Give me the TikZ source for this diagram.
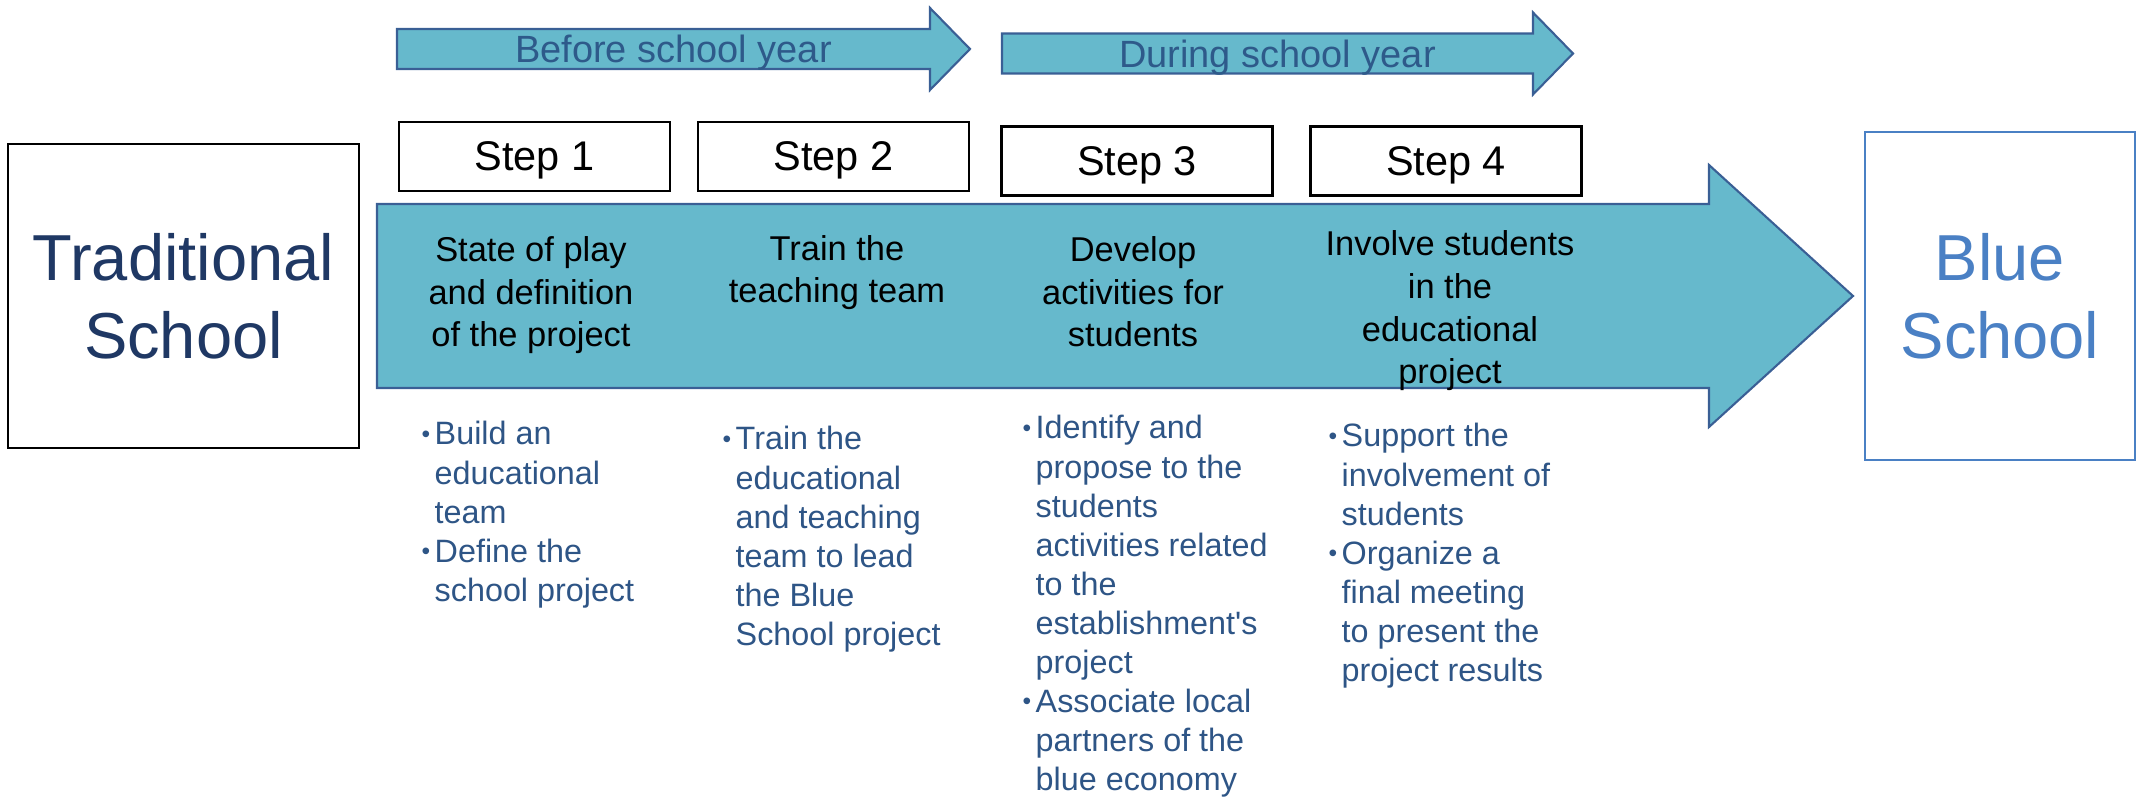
\documentclass[tikz,border=0pt]{standalone}
\usepackage{fontspec}
\setmainfont{Liberation Sans}
\usepackage{tikz}
\usetikzlibrary{calc}
\definecolor{arrowfill}{HTML}{66B9CC}
\definecolor{arrowline}{HTML}{3A5F95}
\definecolor{navytext}{HTML}{1F3864}
\definecolor{bluetext}{HTML}{4A80C4}
\definecolor{listtext}{HTML}{2E5586}
\definecolor{phasetext}{HTML}{2E5A8A}
\tikzstyle{stepbox}=[rectangle,draw=black,line width=0.6pt,minimum width=27.1mm,minimum height=6.9mm,inner sep=0pt,text depth=0pt,font=\fontsize{11.8}{14}\selectfont]
\tikzstyle{schoolbox}=[rectangle,draw,line width=0.6pt,align=center,inner sep=0pt,font=\fontsize{18.5}{22.2}\selectfont]
\tikzstyle{arrowshape}=[fill=arrowfill,draw=arrowline,line width=0.6pt,line join=miter]
\tikzstyle{phase}=[anchor=base,text=phasetext,inner sep=0pt,font=\fontsize{10.8}{13}\selectfont]
\tikzstyle{stage}=[anchor=base,align=center,inner sep=0pt,font=\fontsize{9.8}{12.2}\selectfont]
\tikzstyle{tasks}=[anchor=base west,inner sep=0pt,text=listtext,font=\fontsize{9.2}{11.1}\selectfont]
\newcommand{\itm}{\makebox[1.3mm][l]{\raisebox{0.6pt}{\fontsize{7}{7}\selectfont\textbullet}}}

\begin{document}
\begin{tikzpicture}[x=0.1mm,y=-0.1mm]

    \useasboundingbox (0,0) rectangle (2138,800);

    % phase arrows
    \foreach \xa/\xb/\yc/\name/\txt in {397/930/49/before/Before school year, 1002/1533/53.5/during/During school year}
    {
        \draw[arrowshape] (\xa,\yc-20) -- (\xb,\yc-20) -- (\xb,\yc-41) -- (\xb+40,\yc)
            -- (\xb,\yc+41) -- (\xb,\yc+20) -- (\xa,\yc+20) -- cycle;
        \node[phase] (\name) at ({(\xa+\xb)/2+10},\yc+14) {\txt};
    }

    \foreach \pos/\name/\num in {{(534.5,156.5)/step1/1}, {(833.5,156.5)/step2/2}, {(1137,161)/step3/3}, {(1446,161)/step4/4}}
        \node[stepbox] (\name) at \pos {Step \num};

    % main arrow
    \draw[arrowshape] (377,204) -- (1709,204) -- (1709,165) -- (1853,296)
        -- (1709,427) -- (1709,388) -- (377,388) -- cycle;

    % base = last line
    \node[stage] (play)    at (531,347)  {State of play\\and definition\\of the project};
    \node[stage] (train)   at (837,303)  {Train the\\teaching team};
    \node[stage] (develop) at (1133,347) {Develop\\activities for\\students};
    \node[stage] (involve) at (1450,384) {Involve students\\in the\\educational\\project};

    \node[schoolbox, draw=black, text=navytext, minimum width=35.1mm, minimum height=30.4mm] (trad) at (183.5,296) {Traditional\\School};
    \node[schoolbox, draw=bluetext, text=bluetext, minimum width=27mm, minimum height=32.8mm] (blue) at (2000,296) {Blue\\School};

    \node[tasks] (list1) at (421,445) {\begin{tabular}[t]{@{}l@{}l@{}}\itm&Build an\\&educational\\&team\\\itm&Define the\\&school project\end{tabular}};
    \node[tasks] (list2) at (722,450) {\begin{tabular}[t]{@{}l@{}l@{}}\itm&Train the\\&educational\\&and teaching\\&team to lead\\&the Blue\\&School project\end{tabular}};
    \node[tasks] (list3) at (1022,439) {\begin{tabular}[t]{@{}l@{}l@{}}\itm&Identify and\\&propose to the\\&students\\&activities related\\&to the\\&establishment\textquotesingle s\\&project\\\itm&Associate local\\&partners of the\\&blue economy\end{tabular}};
    \node[tasks] (list4) at (1328,447) {\begin{tabular}[t]{@{}l@{}l@{}}\itm&Support the\\&involvement of\\&students\\\itm&Organize a\\&final meeting\\&to present the\\&project results\end{tabular}};

\end{tikzpicture}
\end{document}
